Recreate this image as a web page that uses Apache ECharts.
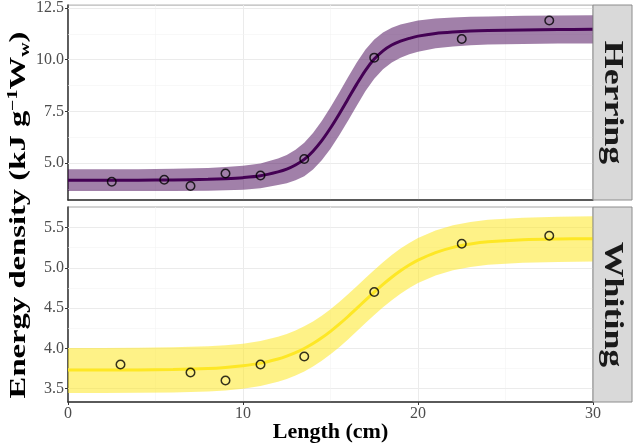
<!DOCTYPE html>
<html>
<head>
<meta charset="utf-8">
<script src="https://cdn.jsdelivr.net/npm/echarts@6/dist/echarts.min.js"></script>
<style>html,body{margin:0;padding:0;background:#fff}#c{width:633px;height:445px}</style>
</head>
<body>
<div id="c"></div>
<script>
// ---- data ----
const panelNames = ['Herring', 'Whiting'];
const herringLenObs = [2.5, 5.5, 7.0, 9.0, 11.0, 13.5, 17.5, 22.5, 27.5];
const herringEdObs  = [4.1, 4.2, 3.9, 4.5, 4.4, 5.2, 10.1, 11.0, 11.9];
const whitingLenObs = [3.0, 7.0, 9.0, 11.0, 13.5, 17.5, 22.5, 27.5];
const whitingEdObs  = [3.8, 3.7, 3.6, 3.8, 3.9, 4.7, 5.3, 5.4];

const fitLen = [0, 2, 4, 6, 8, 9, 10, 11, 12, 12.5, 13, 13.5, 14, 14.5, 15, 15.5, 16, 16.5, 17, 17.5, 18, 18.5, 19, 19.5, 20, 21, 22, 23, 24, 26, 28, 30];
const herringFit   = [4.18, 4.18, 4.18, 4.19, 4.22, 4.25, 4.30, 4.39, 4.58, 4.71, 4.91, 5.18, 5.58, 6.09, 6.70, 7.38, 8.10, 8.82, 9.49, 10.03, 10.43, 10.71, 10.90, 11.03, 11.14, 11.27, 11.34, 11.385, 11.41, 11.44, 11.46, 11.47];
const herringUpper = [4.71, 4.71, 4.71, 4.73, 4.77, 4.81, 4.88, 4.99, 5.22, 5.39, 5.65, 5.99, 6.46, 7.04, 7.70, 8.41, 9.15, 9.86, 10.49, 10.98, 11.32, 11.55, 11.70, 11.80, 11.89, 11.99, 12.04, 12.075, 12.09, 12.12, 12.14, 12.15];
const herringLower = [3.65, 3.65, 3.65, 3.65, 3.67, 3.69, 3.72, 3.79, 3.94, 4.03, 4.17, 4.37, 4.70, 5.14, 5.70, 6.35, 7.05, 7.78, 8.49, 9.08, 9.54, 9.87, 10.10, 10.26, 10.39, 10.55, 10.64, 10.695, 10.73, 10.76, 10.78, 10.79];
const whitingFit   = [3.730, 3.731, 3.733, 3.738, 3.750, 3.763, 3.784, 3.817, 3.869, 3.904, 3.947, 3.999, 4.060, 4.131, 4.211, 4.300, 4.396, 4.497, 4.599, 4.699, 4.795, 4.884, 4.964, 5.035, 5.096, 5.190, 5.255, 5.296, 5.323, 5.349, 5.359, 5.363];
const whitingUpper = [4.005, 4.006, 4.008, 4.013, 4.025, 4.038, 4.059, 4.092, 4.144, 4.179, 4.222, 4.274, 4.335, 4.406, 4.486, 4.575, 4.671, 4.772, 4.874, 4.974, 5.070, 5.159, 5.239, 5.310, 5.371, 5.465, 5.530, 5.571, 5.598, 5.624, 5.634, 5.640];
const whitingLower = [3.445, 3.446, 3.448, 3.453, 3.465, 3.478, 3.499, 3.532, 3.584, 3.619, 3.662, 3.714, 3.775, 3.846, 3.926, 4.015, 4.111, 4.212, 4.314, 4.414, 4.510, 4.599, 4.679, 4.750, 4.811, 4.905, 4.970, 5.011, 5.038, 5.064, 5.074, 5.078];

const xTicks = [0, 10, 20, 30];
const herringYTicks = [5.0, 7.5, 10.0, 12.5];
const herringYMinor = [3.75, 6.25, 8.75, 11.25];
const whitingYTicks = [3.5, 4.0, 4.5, 5.0, 5.5];
const whitingYMinor = [3.75, 4.25, 4.75, 5.25];
const herringRange = [3.22, 12.64];
const whitingRange = [3.334, 5.756];

// ---- chart ----
const SERIF = '"Liberation Serif", "Times New Roman", serif';
const chart = echarts.init(document.getElementById('c'), null, {renderer: 'canvas'});

function xAxisCfg(gi, labels) {
  return {
    gridIndex: gi, type: 'value', min: xTicks[0], max: xTicks[xTicks.length - 1], interval: 10,
    axisLine: {show: true, onZero: false, lineStyle: {color: '#333', width: 1.5}},
    axisTick: {show: labels, length: 3, lineStyle: {color: '#333'}},
    axisLabel: {show: labels, fontFamily: SERIF, fontSize: 16, color: '#4D4D4D', margin: 4},
    splitLine: {show: true, lineStyle: {color: '#EBEBEB', width: 1}},
    minorTick: {show: false, splitNumber: 2},
    minorSplitLine: {show: true, lineStyle: {color: '#F3F3F3', width: 0.6}}
  };
}
function yAxisCfg(gi, range, ticks) {
  return {
    gridIndex: gi, type: 'value', min: range[0], max: range[1],
    axisLine: {show: true, onZero: false, lineStyle: {color: '#333', width: 1.5}},
    axisTick: {show: true, length: 3, customValues: ticks, lineStyle: {color: '#333'}},
    axisLabel: {show: true, customValues: ticks, formatter: v => Number(v).toFixed(1),
      fontFamily: SERIF, fontSize: 16, color: '#4D4D4D', margin: 4},
    splitLine: {show: false}
  };
}
function gridSeries(gi, major, minor) {
  return {
    type: 'line', xAxisIndex: gi, yAxisIndex: gi, data: [], silent: true, z: 1,
    markLine: {
      z: 1, silent: true, symbol: ['none', 'none'], animation: false, label: {show: false},
      data: major.map(v => ({yAxis: v, lineStyle: {color: '#EBEBEB', width: 1, type: 'solid'}}))
        .concat(minor.map(v => ({yAxis: v, lineStyle: {color: '#F3F3F3', width: 0.6, type: 'solid'}})))
    }
  };
}
function bandSeries(gi, upper, lower, color) {
  return {
    type: 'custom', xAxisIndex: gi, yAxisIndex: gi, z: 2, silent: true,
    data: [[fitLen[0], lower[0]]],
    renderItem: function (params, api) {
      const pts = [];
      for (let i = 0; i < fitLen.length; i++) pts.push(api.coord([fitLen[i], upper[i]]));
      for (let i = fitLen.length - 1; i >= 0; i--) pts.push(api.coord([fitLen[i], lower[i]]));
      return {type: 'polygon', shape: {points: pts}, style: {fill: color}};
    }
  };
}
function lineSeries(gi, vals, color) {
  return {
    type: 'line', xAxisIndex: gi, yAxisIndex: gi, z: 3, silent: true,
    data: fitLen.map((x, i) => [x, vals[i]]), showSymbol: false,
    smooth: 0.3,
    lineStyle: {color: color, width: 3}
  };
}
function pointSeries(gi, xs, ys) {
  return {
    type: 'scatter', xAxisIndex: gi, yAxisIndex: gi, z: 4, silent: true,
    data: xs.map((x, i) => [x, ys[i]]), symbol: 'circle', symbolSize: 8.5,
    itemStyle: {color: 'rgba(0,0,0,0)', borderColor: '#000', borderWidth: 1.5}
  };
}

const grids = [
  {left: 68, top: 5, width: 525, height: 195},
  {left: 68, top: 207, width: 525, height: 195}
];

const option = {
  animation: false,
  backgroundColor: '#fff',
  grid: grids.map(g => Object.assign({show: true, borderColor: '#A6A6A6', borderWidth: 1, backgroundColor: '#fff'}, g)),
  xAxis: [xAxisCfg(0, false), xAxisCfg(1, true)],
  yAxis: [yAxisCfg(0, herringRange, herringYTicks), yAxisCfg(1, whitingRange, whitingYTicks)],
  series: [
    gridSeries(0, herringYTicks, herringYMinor),
    gridSeries(1, whitingYTicks, whitingYMinor),
    bandSeries(0, herringUpper, herringLower, 'rgba(68,1,84,0.5)'),
    bandSeries(1, whitingUpper, whitingLower, 'rgba(253,231,37,0.55)'),
    lineSeries(0, herringFit, '#440154'),
    lineSeries(1, whitingFit, '#FDE725'),
    pointSeries(0, herringLenObs, herringEdObs),
    pointSeries(1, whitingLenObs, whitingEdObs)
  ],
  graphic: [
    {type: 'rect', z: 10, shape: {x: 593, y: 5, width: 39, height: 195},
      style: {fill: '#D9D9D9', stroke: '#8C8C8C', lineWidth: 1}},
    {type: 'rect', z: 10, shape: {x: 593, y: 207, width: 39, height: 195},
      style: {fill: '#D9D9D9', stroke: '#8C8C8C', lineWidth: 1}},
    {type: 'text', z: 11, x: 612, y: 102.5, rotation: -Math.PI / 2, scaleX: 1.28,
      style: {text: panelNames[0], font: 'bold 28px ' + SERIF, fill: '#1A1A1A',
        align: 'center', verticalAlign: 'middle', textAlign: 'center', textVerticalAlign: 'middle'}},
    {type: 'text', z: 11, x: 612, y: 304.5, rotation: -Math.PI / 2, scaleX: 1.28,
      style: {text: panelNames[1], font: 'bold 28px ' + SERIF, fill: '#1A1A1A',
        align: 'center', verticalAlign: 'middle', textAlign: 'center', textVerticalAlign: 'middle'}},
    {type: 'text', z: 11, x: 330.5, y: 432,
      style: {text: 'Length (cm)', font: 'bold 22px ' + SERIF, fill: '#000',
        align: 'center', verticalAlign: 'middle', textAlign: 'center', textVerticalAlign: 'middle'}},
    {type: 'text', z: 11, x: 19, y: 215, rotation: Math.PI / 2, scaleX: 1.42,
      style: {
        text: '{a|Energy density (kJ g}{s|\u22121}{a|W}{b|w}{a|)}',
        align: 'center', verticalAlign: 'middle', textAlign: 'center', textVerticalAlign: 'middle',
        rich: {
          a: {fontSize: 23, fontWeight: 'bold', fontFamily: SERIF, fill: '#000', lineHeight: 26, verticalAlign: 'middle'},
          s: {fontSize: 14, fontWeight: 'bold', fontFamily: SERIF, fill: '#000', lineHeight: 26, verticalAlign: 'top'},
          b: {fontSize: 14, fontWeight: 'bold', fontFamily: SERIF, fill: '#000', lineHeight: 26, verticalAlign: 'bottom'}
        }
      }}
  ]
};
chart.setOption(option);
</script>
</body>
</html>
